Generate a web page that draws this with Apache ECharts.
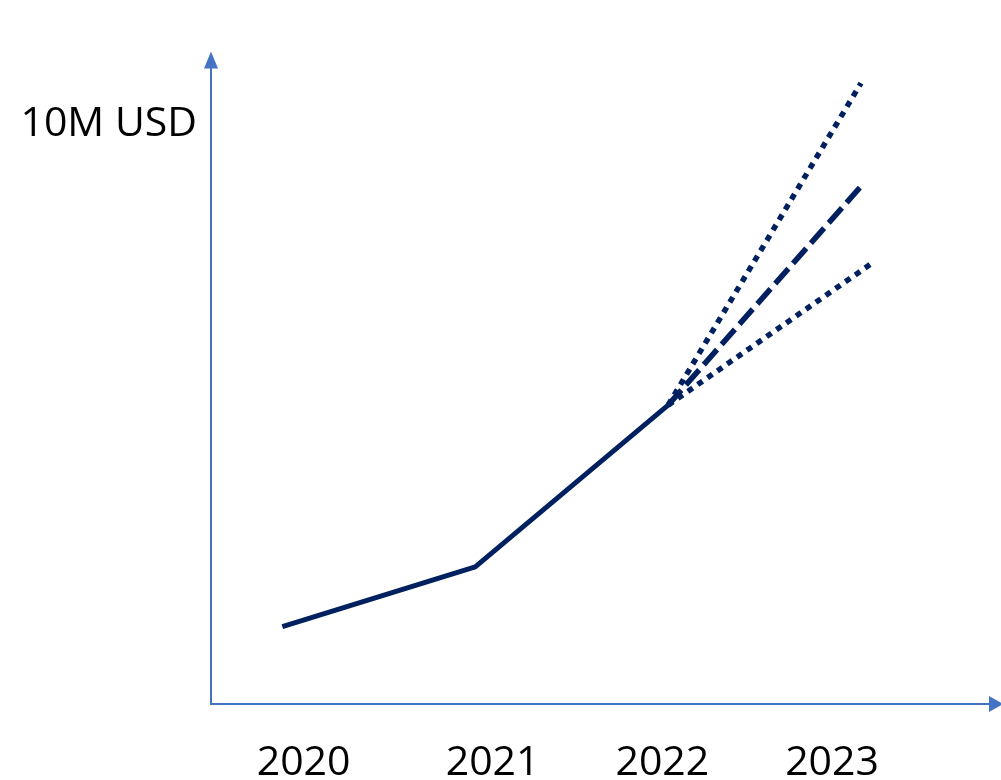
<!DOCTYPE html>
<html>
<head>
<meta charset="utf-8">
<script src="https://cdn.jsdelivr.net/npm/echarts@6/dist/echarts.min.js"></script>
<style>html,body{margin:0;padding:0;background:#fff;}#c{width:1001px;height:780px;}</style>
</head>
<body>
<div id="c"></div>
<script>
// Tick labels (years)
var yearLabels = ['2020', '2021', '2022', '2023'];
// Actual values (10M USD)
var actualYears = [2020, 2021, 2022];
var actualValues = [1.20, 2.13, 4.64];
// Projections from 2022 to 2023
var highYears = [2022, 2023];
var highValues = [4.64, 9.64];
var midYears = [2022, 2023];
var midValues = [4.64, 8.04];
var lowYears = [2022, 2023.05];
var lowValues = [4.64, 6.83];
var yAxisName = '10M USD';

function pairs(xs, ys) { return xs.map(function (x, i) { return [x, ys[i]]; }); }

var navy = '#002060';
var axisBlue = '#4472C4';
var font = '"Open Sans", "Liberation Sans", sans-serif';
// where the year labels sit along the axis (as drawn in the original slide)
var labelAnchors = [2020.11, 2021.09, 2021.97, 2022.85];

var chart = echarts.init(document.getElementById('c'), null, { renderer: 'canvas' });
chart.setOption({
  animation: false,
  backgroundColor: '#fff',
  grid: { left: 211, right: 5, top: 60, bottom: 76, containLabel: false, outerBoundsMode: 'none' },
  xAxis: {
    type: 'value', min: 2019.63, max: 2023.70,
    axisLine: { show: true, onZero: false, lineStyle: { color: axisBlue, width: 2 }, symbol: ['none', 'triangle'], symbolSize: [16, 14] },
    axisTick: { show: false }, splitLine: { show: false },
    axisLabel: {
      show: true, color: '#000', fontFamily: font, fontSize: 41, margin: 39,
      customValues: labelAnchors,
      formatter: function (v) {
        var i = labelAnchors.indexOf(v);
        return i >= 0 ? yearLabels[i] : '';
      }
    }
  },
  yAxis: {
    type: 'value', min: 0, max: 10,
    axisLine: { show: true, lineStyle: { color: axisBlue, width: 2 }, symbol: ['none', 'triangle'], symbolSize: [14, 17] },
    axisTick: { show: false }, axisLabel: { show: false }, splitLine: { show: false },
    name: yAxisName, nameLocation: 'end', nameGap: -64,
    nameTextStyle: { color: '#000', fontFamily: font, fontSize: 41, align: 'right', verticalAlign: 'middle', padding: [0, 14, 0, 0] }
  },
  series: [
    {
      type: 'line', data: pairs(actualYears, actualValues),
      symbol: 'none', lineStyle: { color: navy, width: 5, type: 'solid' }
    },
    {
      type: 'line', data: pairs(highYears, highValues),
      symbol: 'none', lineStyle: { color: navy, width: 5.5, type: [6, 6] }
    },
    {
      type: 'line', data: pairs(midYears, midValues),
      symbol: 'none', lineStyle: { color: navy, width: 5.5, type: [20, 7] }
    },
    {
      type: 'line', data: pairs(lowYears, lowValues),
      symbol: 'none', lineStyle: { color: navy, width: 5.5, type: [6, 6] }
    }
  ]
});
</script>
</body>
</html>
